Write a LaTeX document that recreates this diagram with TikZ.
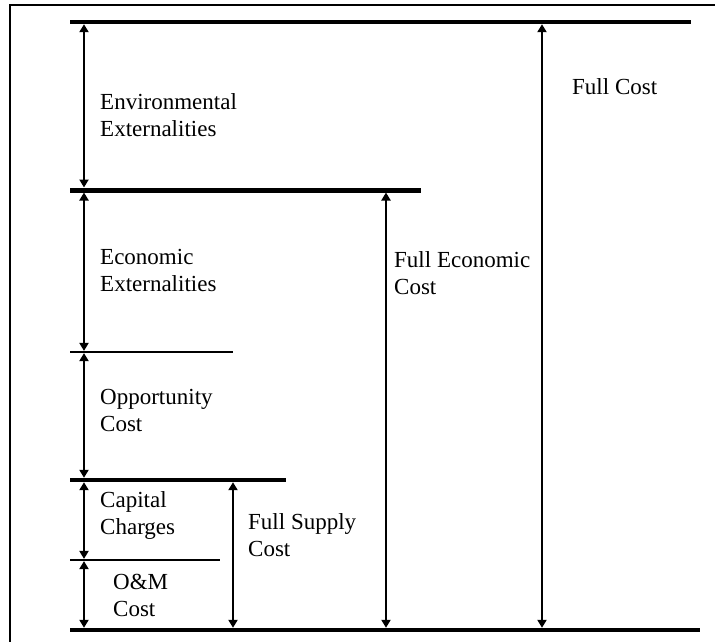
\documentclass[tikz,border=0pt]{standalone}
\usepackage{fontspec}
\setmainfont{Liberation Serif}
\usetikzlibrary{arrows.meta}
\begin{document}
\begin{tikzpicture}[x=1pt,y=-1pt,
  level/.style={line width=#1, line cap=butt},
  dim/.style={line width=2pt, {Triangle[length=8pt,width=9pt]}-{Triangle[length=8pt,width=9pt]}},
  lbl/.style={anchor=base west, inner sep=0pt, font=\fontsize{23}{27}\selectfont}]
\useasboundingbox (0,0) rectangle (715,642);
% frame
\coordinate (fbl) at (10,642);
\coordinate (ftl) at (10,5);
\coordinate (ftr) at (715,5);
\draw[line width=1.8pt] (fbl) -- (ftl) -- (ftr);
% levels
\coordinate (l0a) at (70,22);  \coordinate (l0b) at (691,22);
\coordinate (l1a) at (70,190); \coordinate (l1b) at (421,190);
\coordinate (l2a) at (70,352); \coordinate (l2b) at (233,352);
\coordinate (l3a) at (70,480); \coordinate (l3b) at (286,480);
\coordinate (l4a) at (70,560); \coordinate (l4b) at (220,560);
\coordinate (l5a) at (70,630); \coordinate (l5b) at (700,630);
\draw[level=4.5pt] (l0a) -- (l0b);
\draw[level=5pt] (l1a) -- (l1b);
\draw[level=2.2pt] (l2a) -- (l2b);
\draw[level=4.5pt] (l3a) -- (l3b);
\draw[level=2.2pt] (l4a) -- (l4b);
\draw[level=4.5pt] (l5a) -- (l5b);
% arrow ends
\coordinate (a1t) at (84,24.2);  \coordinate (a1b) at (84,187.5);
\coordinate (a2t) at (84,192.5); \coordinate (a2b) at (84,350.9);
\coordinate (a3t) at (84,353.1); \coordinate (a3b) at (84,477.8);
\coordinate (a4t) at (84,482.2); \coordinate (a4b) at (84,558.9);
\coordinate (a5t) at (84,561.1); \coordinate (a5b) at (84,627.8);
\coordinate (fst) at (233,482.2);\coordinate (fsb) at (233,627.8);
\coordinate (fet) at (386,192.5);\coordinate (feb) at (386,627.8);
\coordinate (fct) at (542,24.2); \coordinate (fcb) at (542,627.8);
\draw[dim] (a1t) -- (a1b);
\draw[dim] (a2t) -- (a2b);
\draw[dim] (a3t) -- (a3b);
\draw[dim] (a4t) -- (a4b);
\draw[dim] (a5t) -- (a5b);
\draw[dim] (fst) -- (fsb);
\draw[dim] (fet) -- (feb);
\draw[dim] (fct) -- (fcb);
% labels
\node[lbl] (env) at (100,110) {\begin{tabular}[t]{@{}l@{}}Environmental\\Externalities\end{tabular}};
\node[lbl] (eco) at (100,264) {\begin{tabular}[t]{@{}l@{}}Economic\\Externalities\end{tabular}};
\node[lbl] (opp) at (100,404) {\begin{tabular}[t]{@{}l@{}}Opportunity\\Cost\end{tabular}};
\node[lbl] (cap) at (100,507) {\begin{tabular}[t]{@{}l@{}}Capital\\Charges\end{tabular}};
\node[lbl] (om) at (113,589) {\begin{tabular}[t]{@{}l@{}}O\&M\\Cost\end{tabular}};
\node[lbl] (fsc) at (248,529) {\begin{tabular}[t]{@{}l@{}}Full Supply\\Cost\end{tabular}};
\node[lbl] (fec) at (394,267) {\begin{tabular}[t]{@{}l@{}}Full Economic\\Cost\end{tabular}};
\node[lbl] (fc) at (572,94) {Full Cost};
\end{tikzpicture}
\end{document}
